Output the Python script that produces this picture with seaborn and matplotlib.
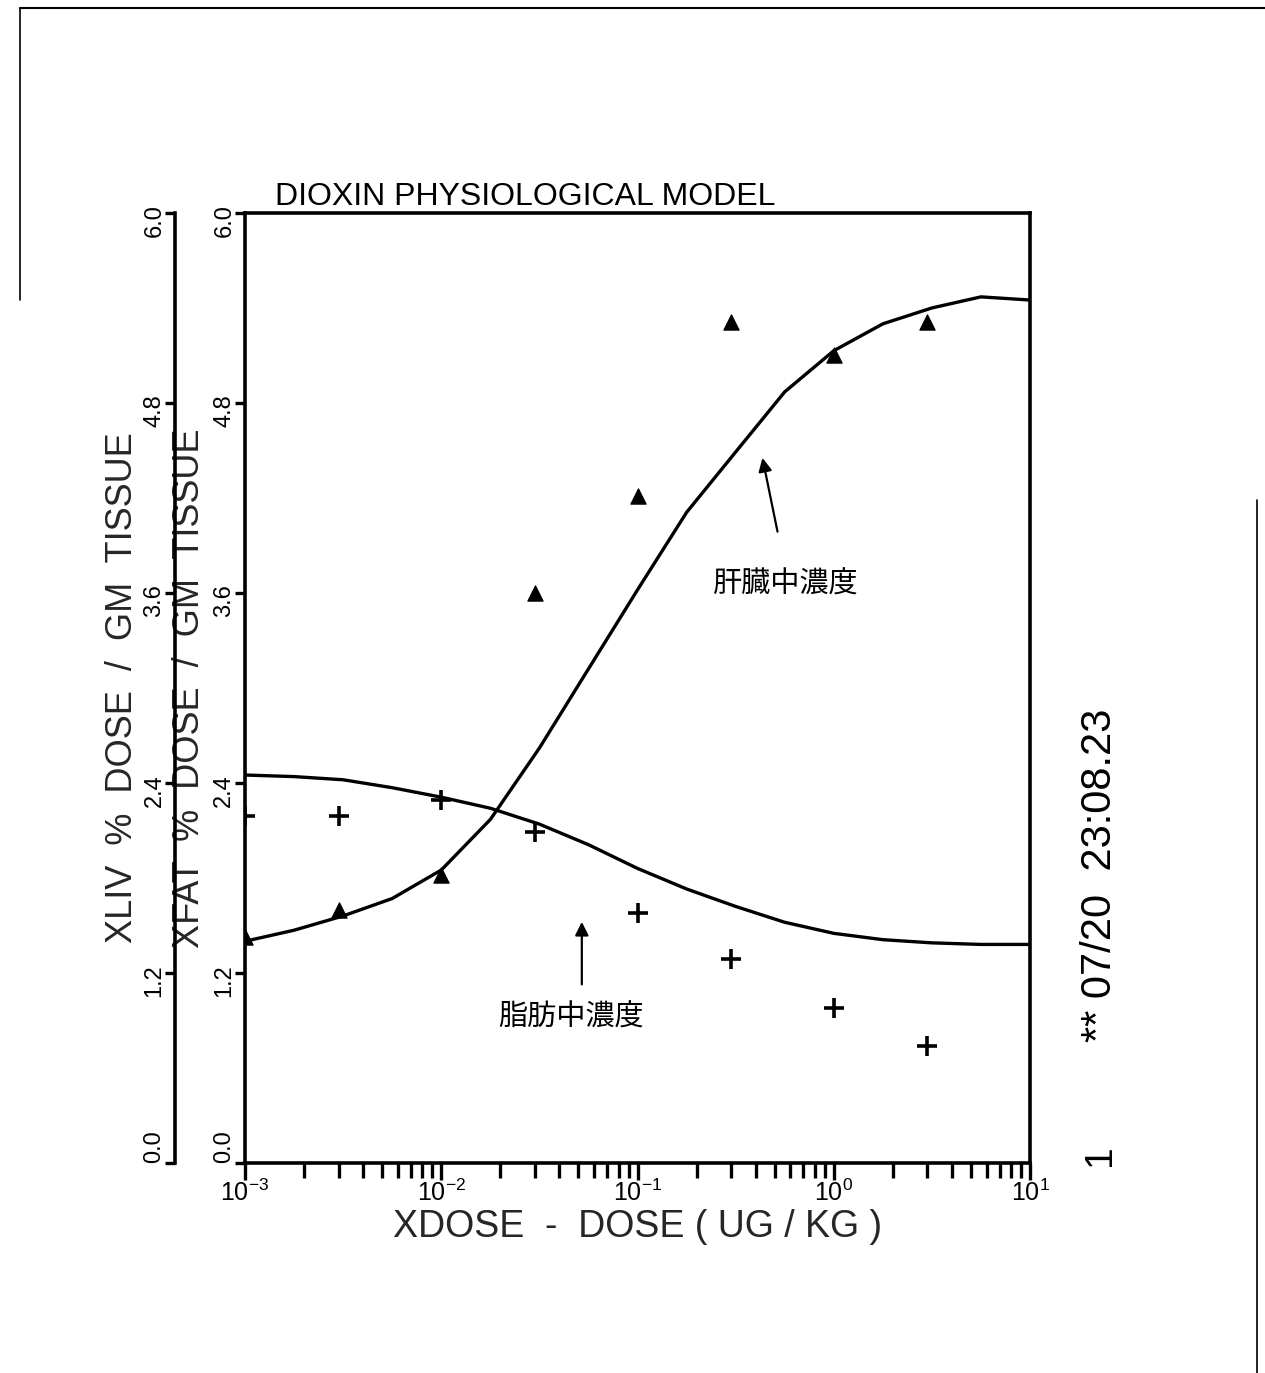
# -*- coding: utf-8 -*-
# Dioxin physiological model: liver / fat concentration vs dose
import numpy as np
import pandas as pd
import matplotlib
matplotlib.use("Agg")
import matplotlib.pyplot as plt
from matplotlib.lines import Line2D
from matplotlib.ticker import LogLocator, FixedLocator
import seaborn as sns

# observed points
dose = [0.001, 0.003, 0.01, 0.03, 0.1, 0.3, 1.0, 3.0]
liver_obs = [1.43, 1.60, 1.82, 3.60, 4.21, 5.31, 5.10, 5.31]
fat_obs = [2.19, 2.19, 2.29, 2.09, 1.58, 1.29, 0.98, 0.74]

# model curves
curve_dose = [0.001, 0.00178, 0.00316, 0.00562, 0.01, 0.0178, 0.0316, 0.0562,
              0.1, 0.178, 0.316, 0.562, 1.0, 1.78, 3.16, 5.62, 10.0]
liver_fit = [1.40, 1.47, 1.56, 1.67, 1.85, 2.17, 2.62, 3.12, 3.62, 4.11,
             4.49, 4.87, 5.13, 5.30, 5.40, 5.47, 5.45]
fat_fit = [2.45, 2.44, 2.42, 2.37, 2.31, 2.24, 2.14, 2.01, 1.86, 1.73,
           1.62, 1.52, 1.45, 1.41, 1.39, 1.38, 1.38]

y_ticks = [0.0, 1.2, 2.4, 3.6, 4.8, 6.0]

sns.set_style("ticks")
plt.rcParams['font.family'] = ['Liberation Sans', 'DejaVu Sans']
plt.rcParams['mathtext.default'] = 'regular'
plt.rcParams['text.color'] = 'black'
plt.rcParams['xtick.color'] = 'black'
plt.rcParams['ytick.color'] = 'black'
plt.rcParams['axes.edgecolor'] = 'black'

fig = plt.figure(figsize=(12.65, 13.73), dpi=100)
ax = fig.add_axes([0.1937, 0.1530, 0.6206, 0.6919])

fit = pd.DataFrame({"dose": curve_dose, "liver": liver_fit, "fat": fat_fit})
obs = pd.DataFrame({"dose": dose, "liver": liver_obs, "fat": fat_obs})

sns.lineplot(data=fit, x="dose", y="liver", color="black", lw=2.4, estimator=None, ax=ax)
sns.lineplot(data=fit, x="dose", y="fat", color="black", lw=2.4, estimator=None, ax=ax)
sns.scatterplot(data=obs, x="dose", y="liver", marker="^", s=120, color="black",
                edgecolor="black", ax=ax, zorder=5)
sns.scatterplot(data=obs, x="dose", y="fat", marker="+", s=220, color="black",
                linewidth=2.6, ax=ax, zorder=5)

ax.set_xscale("log")
ax.set_xlim(1e-3, 10)
ax.set_ylim(0, 6)
ax.xaxis.set_major_locator(LogLocator(base=10, numticks=10))
ax.xaxis.set_minor_locator(LogLocator(base=10, subs=np.arange(2, 10), numticks=10))
ax.set_yticks(y_ticks)
ax.set_yticklabels([f"{v:.1f}" for v in y_ticks])

for s in ax.spines.values():
    s.set_linewidth(2.6)
ax.tick_params(axis="x", which="major", direction="out", length=12, width=2.4,
               labelsize=18, pad=0)
ax.tick_params(axis="x", which="minor", direction="out", length=11, width=2.4)
ax.tick_params(axis="y", direction="out", length=7, width=2.4, labelsize=17,
               labelrotation=90, pad=0)

ax.set_xlabel("XDOSE  -  DOSE ( UG / KG )", fontsize=27, labelpad=2)
ax.set_ylabel("XFAT  %  DOSE  /  GM  TISSUE", fontsize=26)
ax.yaxis.set_label_coords(-0.048, 0.5)

# second (outer) y axis for liver
ax2 = ax.twinx()
ax2.set_ylim(0, 6)
ax2.yaxis.set_major_locator(FixedLocator(y_ticks))
ax2.set_yticklabels([f"{v:.1f}" for v in y_ticks])
ax2.spines["left"].set_position(("axes", -0.089))
ax2.spines["left"].set_visible(True)
ax2.spines["left"].set_linewidth(2.6)
for k in ["right", "top", "bottom"]:
    ax2.spines[k].set_visible(False)
ax2.yaxis.set_ticks_position("left")
ax2.yaxis.set_label_position("left")
ax2.tick_params(axis="y", direction="out", length=7, width=2.4, labelsize=17,
                labelrotation=90, pad=0)
ax2.set_ylabel("XLIV  %  DOSE  /  GM  TISSUE", fontsize=26)
ax2.yaxis.set_label_coords(-0.134, 0.5)

# the 0.0 labels sit just above the bottom, clear of the 10^-3 label
for a in (ax, ax2):
    a.get_yticklabels()[0].set_va("bottom")

# annotations
ax.annotate("", xy=(0.43, 4.47), xytext=(0.52, 3.97),
            arrowprops=dict(arrowstyle="-|>", color="black", lw=1.6, mutation_scale=20))
ax.text(0.57, 3.65, "肝臓中濃度", family=["Noto Sans CJK JP"], fontsize=21,
        ha="center", va="center")
ax.annotate("", xy=(0.052, 1.54), xytext=(0.052, 1.11),
            arrowprops=dict(arrowstyle="-|>", color="black", lw=1.6, mutation_scale=20))
ax.text(0.046, 0.92, "脂肪中濃度", family=["Noto Sans CJK JP"], fontsize=21,
        ha="center", va="center")

# title and plotter stamp
fig.text(0.2174, 0.8507, "DIOXIN PHYSIOLOGICAL MODEL", fontsize=23, va="baseline")
fig.text(0.8696, 0.3627, "** 07/20  23:08.23", fontsize=30, rotation=90,
         ha="center", va="center")
fig.text(0.8696, 0.1585, "1", fontsize=28, rotation=90, ha="center", va="center")

# scanned page border
fig.add_artist(Line2D([20 / 1265, 1.0], [1 - 8 / 1373] * 2, transform=fig.transFigure,
                      color="black", lw=1.5))
fig.add_artist(Line2D([20 / 1265] * 2, [1 - 8 / 1373, 1 - 300 / 1373],
                      transform=fig.transFigure, color="black", lw=1.2))
fig.add_artist(Line2D([1257 / 1265] * 2, [1 - 500 / 1373, 0.0],
                      transform=fig.transFigure, color="black", lw=1.2))

fig.savefig("out.png", dpi=100)
